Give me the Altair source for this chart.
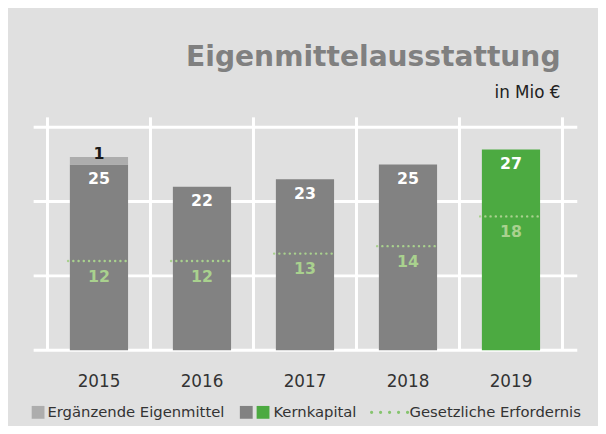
import altair as alt
import pandas as pd

# ---- data ----
years = ["2015", "2016", "2017", "2018", "2019"]
kernkapital = [25, 22, 23, 25, 27]
ergaenzend = [1, 0, 0, 0, 0]
erfordernis = [12, 12, 13, 14, 18]
grid_values = [0, 10, 20, 30]

title_text = "Eigenmittelausstattung"
subtitle_text = "in Mio €"
legend_labels = ["Ergänzende Eigenmittel", "Kernkapital", "Gesetzliche Erfordernis"]

# ---- styles ----
FONT = "DejaVu Sans"
BG = "#e0e0e0"
DGRAY = "#828282"
LGRAY = "#adadad"
GREEN = "#4caa41"
REQ = "#a9d18e"
TXT = "#333333"

df = pd.DataFrame({"year": years, "kern": kernkapital, "erg": ergaenzend, "req": erfordernis})
df["total"] = df["kern"] + df["erg"]
grid_df = pd.DataFrame({"v": grid_values})
one = pd.DataFrame({"a": [0]})

W, H = 522, 226

xaxis = alt.Axis(title=None, domain=False, ticks=False, grid=False, labelAngle=0,
                 labelFontSize=17, labelColor=TXT, labelFont=FONT, labelPadding=24)
xscale = alt.Scale(paddingInner=0, paddingOuter=0)


def X(**kw):
    return alt.X("year:N", scale=xscale, axis=xaxis, sort=years, **kw)


yscale = alt.Scale(domain=[0, 30], nice=False, zero=True)

base = alt.Chart(df)

hgrid = alt.Chart(grid_df).mark_rule(color="white", strokeWidth=3).encode(
    y=alt.Y("v:Q", scale=yscale, axis=None),
    x=alt.value(-14), x2=alt.value(537),
)
vgrid = base.mark_rule(color="white", strokeWidth=3).encode(
    x=X(bandPosition=0), y=alt.value(-10), y2=alt.value(H),
)
vgrid_end = alt.Chart(one).mark_rule(color="white", strokeWidth=3).encode(
    x=alt.value(W), y=alt.value(-10), y2=alt.value(H),
)

kern_bars = base.mark_bar(width=alt.RelativeBandSize(0.565)).encode(
    x=X(),
    y=alt.Y("kern:Q", scale=yscale, axis=None),
    y2=alt.value(H + 1.5),
    color=alt.condition(alt.datum.year == "2019", alt.value(GREEN), alt.value(DGRAY)),
)
erg_bars = base.transform_filter(alt.datum.erg > 0).mark_bar(
    width=alt.RelativeBandSize(0.565), color=LGRAY
).encode(
    x=X(),
    y=alt.Y("total:Q", scale=yscale, axis=None),
    y2=alt.Y2("kern:Q"),
)

req_lines = base.mark_rule(color=REQ, strokeWidth=2.4, strokeDash=[0.1, 5.2], strokeCap="round").encode(
    x=X(bandPosition=0.2),
    x2=alt.X2("year:N", bandPosition=0.8),
    y=alt.Y("req:Q", scale=yscale, axis=None),
)

kern_labels = base.mark_text(color="white", fontWeight="bold", fontSize=16, font=FONT,
                             baseline="middle", dy=15).encode(
    x=X(), y=alt.Y("kern:Q", scale=yscale, axis=None), text="kern:Q")
req_labels = base.mark_text(color=REQ, fontWeight="bold", fontSize=16, font=FONT,
                            baseline="middle", dy=16).encode(
    x=X(), y=alt.Y("req:Q", scale=yscale, axis=None), text="req:Q")
erg_labels = base.transform_filter(alt.datum.erg > 0).mark_text(
    color="#1a1a1a", fontWeight="bold", fontSize=16, font=FONT, baseline="middle", dy=-3
).encode(x=X(), y=alt.Y("total:Q", scale=yscale, axis=None), text="erg:Q")

title = alt.Chart(one).mark_text(text=title_text, align="right", baseline="alphabetic",
                                 fontSize=28.5, fontWeight="bold", color="#808080", font=FONT).encode(
    x=alt.value(520), y=alt.value(-62))
subtitle = alt.Chart(one).mark_text(text=subtitle_text, align="right", baseline="alphabetic",
                                    fontSize=17, color="#222222", font=FONT).encode(
    x=alt.value(520), y=alt.value(-30))

LY = 289
leg_sq1 = alt.Chart(one).mark_square(size=169, color=LGRAY, opacity=1).encode(
    x=alt.value(-9.5), y=alt.value(LY))
leg_sq2 = alt.Chart(one).mark_square(size=169, color=DGRAY, opacity=1).encode(
    x=alt.value(201.5), y=alt.value(LY))
leg_sq3 = alt.Chart(one).mark_square(size=169, color=GREEN, opacity=1).encode(
    x=alt.value(218.5), y=alt.value(LY))
leg_dots = alt.Chart(one).mark_rule(color="#86c46f", strokeWidth=3.2, strokeDash=[0.1, 9],
                                    strokeCap="round").encode(
    x=alt.value(328.5), x2=alt.value(366), y=alt.value(LY))


def leg_text(t, xpos):
    return alt.Chart(one).mark_text(text=t, align="left", baseline="middle", fontSize=15,
                                    color=TXT, font=FONT).encode(x=alt.value(xpos), y=alt.value(LY))


chart = alt.layer(
    hgrid, vgrid, vgrid_end, kern_bars, erg_bars, req_lines,
    kern_labels, req_labels, erg_labels, title, subtitle,
    leg_sq1, leg_sq2, leg_sq3, leg_dots,
    leg_text(legend_labels[0], 0), leg_text(legend_labels[1], 229), leg_text(legend_labels[2], 367),
).properties(
    width=W, height=H,
    autosize=alt.AutoSizeParams(type="none"),
    padding={"left": 40, "top": 118, "right": 36, "bottom": 74},
    background=BG,
).configure_view(stroke=None)

chart.save("out.html", embed_options={"renderer": "svg", "actions": False})
